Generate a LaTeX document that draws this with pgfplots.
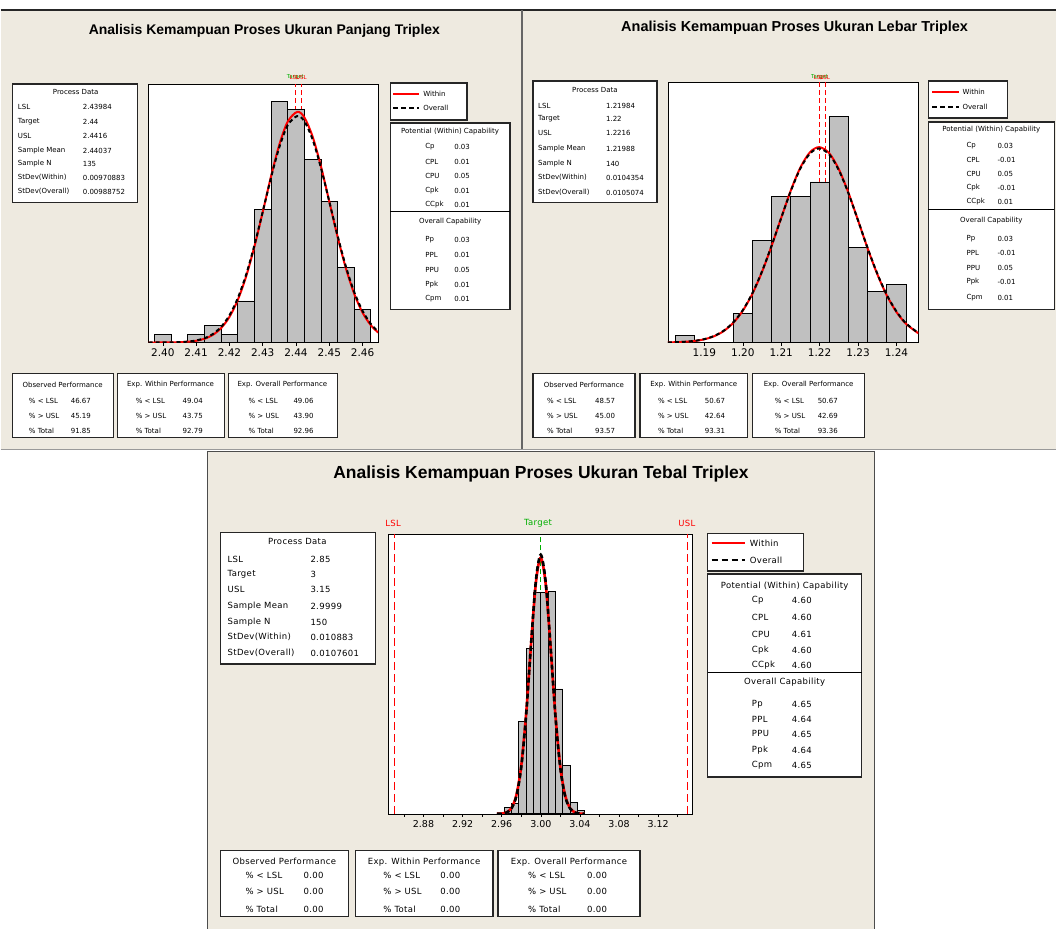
\documentclass[border=0pt]{standalone}
\usepackage{pgfplots}
\pgfplotsset{compat=1.18}
\usepackage{fontspec}
\setmainfont{DejaVu Sans}
\newfontfamily\wide[LetterSpace=4]{DejaVu Sans}
\newfontfamily\titlefont{Liberation Sans}
\definecolor{bgc}{RGB}{238,234,224}
\definecolor{barc}{RGB}{192,192,192}
\definecolor{mred}{RGB}{255,0,0}
\definecolor{mgreen}{RGB}{0,175,0}
\tikzset{box/.style={draw=black!85, line width=1.4pt, fill=white},
 ts/.style={font=\fontsize{7}{8}\selectfont, inner sep=0pt},
 tm/.style={font=\wide\fontsize{8.5}{9}\selectfont, inner sep=0pt}}
\newcommand{\tl}[3]{\node[ts,anchor=west] at (#1,#2) {#3};}
\newcommand{\tc}[3]{\node[ts,anchor=center] at (#1,#2) {#3};}
\newcommand{\ml}[3]{\node[tm,anchor=west] at (#1,#2) {#3};}
\newcommand{\mc}[3]{\node[tm,anchor=center] at (#1,#2) {#3};}
\pgfplotsset{cap/.style={scale only axis, axis background/.style={fill=white},
  ymin=0, ytick=\empty, xtick pos=bottom, tick align=outside, major tick length=3pt, minor tick length=3pt,
  axis line style={black, line width=0.6pt}, clip=true,
  /pgf/number format/fixed, /pgf/number format/fixed zerofill, /pgf/number format/precision=2,
  /pgf/number format/assume math mode=true,
  every tick/.style={black, line width=0.6pt}},
 bars/.style={ybar, bar shift=0pt, fill=barc, draw=black, line width=0.8pt},
 wit/.style={mred, line width=2pt, smooth},
 ovr/.style={black, line width=2pt, dash pattern=on 4pt off 3pt, smooth},
 spec/.style={mred, line width=1pt, dash pattern=on 5pt off 3pt},
 targ/.style={mgreen, line width=1pt, dash pattern=on 5pt off 3pt}}
\begin{document}
\begin{tikzpicture}[x=1pt,y=-1pt]
\fill[white] (0,0) rectangle (1057,930);
\fill[bgc] (0,10) rectangle (1057,450);
\fill[bgc] (207,452) rectangle (875,930);
\draw[black!85, line width=1.5pt] (0,10) -- (1057,10);
\draw[black!60, line width=1.5pt] (522,10) -- (522,450);
\draw[black!40, line width=1.5pt] (0,450) -- (1057,450);
\draw[black!70, line width=1.5pt] (207,930) -- (207,452) -- (875,452) -- (875,930);

% ---------------- Panel 1 ----------------
\node[font=\titlefont\bfseries\fontsize{14}{15}\selectfont, inner sep=0pt] at (264,31) {Analisis Kemampuan Proses Ukuran Panjang Triplex};
\begin{axis}[cap, at={(148pt,-343pt)}, anchor=south west, width=230pt, height=259pt,
  xmin=2.3957, xmax=2.4647, ymax=31.1, xtick={2.40,2.41,...,2.465},
  xticklabel style={font=\fontsize{10.5}{11}\selectfont}]
\addplot[targ] coordinates {(2.44,0) (2.44,31.1)};
\addplot[spec] coordinates {(2.43984,0) (2.43984,31.1)};
\addplot[spec] coordinates {(2.4416,0) (2.4416,31.1)};
\addplot[bars, bar width=0.005] coordinates {(2.400,1) (2.405,0) (2.410,1) (2.415,2) (2.420,1) (2.425,5) (2.430,16) (2.435,29) (2.440,28) (2.445,22) (2.450,17) (2.455,9) (2.460,4)};
\addplot[wit] coordinates {(2.3957,0.0007) (2.3975,0.0016) (2.4000,0.0049) (2.4025,0.0138) (2.4050,0.0364) (2.4075,0.090) (2.4100,0.208) (2.4125,0.450) (2.4150,0.913) (2.4175,1.731) (2.4200,3.070) (2.4225,5.098) (2.4250,7.921) (2.4275,11.52) (2.4300,15.68) (2.4325,19.97) (2.4350,23.80) (2.4375,26.55) (2.44037,27.736) (2.4425,27.08) (2.4450,24.75) (2.4475,21.18) (2.4500,16.96) (2.4525,12.71) (2.4550,8.91) (2.4575,5.85) (2.4600,3.59) (2.4625,2.064) (2.4647,1.201)};
\addplot[ovr] coordinates {(2.3957,0.001) (2.4025,0.0178) (2.4050,0.0453) (2.4075,0.108) (2.4100,0.243) (2.4125,0.513) (2.4150,1.013) (2.4175,1.877) (2.4200,3.263) (2.4225,5.319) (2.4250,8.135) (2.4275,11.68) (2.4300,15.71) (2.4325,19.84) (2.4350,23.50) (2.4375,26.11) (2.44037,27.235) (2.4425,26.61) (2.4450,24.41) (2.4475,21.00) (2.4500,16.95) (2.4525,12.83) (2.4550,9.12) (2.4575,6.07) (2.4600,3.80) (2.4625,2.225) (2.4647,1.319)};
\end{axis}
\node[font=\fontsize{5.5}{6}\selectfont, inner sep=0pt, text=mgreen, anchor=south] at (295,80) {Target};
\node[font=\fontsize{5.5}{6}\selectfont, inner sep=0pt, text=mred, anchor=south] at (294,80) {LSL};
\node[font=\fontsize{5.5}{6}\selectfont, inner sep=0pt, text=mred, anchor=south] at (301,80) {USL};
% process data
\draw[box] (12,84) rectangle (137,203);
\tc{75}{92}{Process Data}
\tl{17}{107}{LSL}\tl{82}{107}{2.43984}
\tl{17}{122}{Target}\tl{82}{122}{2.44}
\tl{17}{136}{USL}\tl{82}{136}{2.4416}
\tl{17}{151}{Sample Mean}\tl{82}{151}{2.44037}
\tl{17}{164}{Sample N}\tl{82}{164}{135}
\tl{17}{178}{StDev(Within)}\tl{82}{178}{0.00970883}
\tl{17}{192}{StDev(Overall)}\tl{82}{192}{0.00988752}
% legend
\draw[box] (390,83) rectangle (467,120);
\draw[mred, line width=1.8pt] (393,94) -- (419,94); \tl{423}{94}{Within}
\draw[black, line width=1.8pt, dash pattern=on 5pt off 3pt] (393,108) -- (419,108); \tl{423}{108}{Overall}
% capability
\draw[box] (390,123) rectangle (510,310);
\draw[black, line width=1pt] (390,212) -- (510,212);
\tc{450}{132}{Potential (Within) Capability}
\tl{425}{147}{Cp}\tl{454}{147}{0.03}
\tl{425}{162}{CPL}\tl{454}{162}{0.01}
\tl{425}{176}{CPU}\tl{454}{176}{0.05}
\tl{425}{191}{Cpk}\tl{454}{191}{0.01}
\tl{425}{205}{CCpk}\tl{454}{205}{0.01}
\tc{450}{222}{Overall Capability}
\tl{425}{240}{Pp}\tl{454}{240}{0.03}
\tl{425}{255}{PPL}\tl{454}{255}{0.01}
\tl{425}{270}{PPU}\tl{454}{270}{0.05}
\tl{425}{285}{Ppk}\tl{454}{285}{0.01}
\tl{425}{299}{Cpm}\tl{454}{299}{0.01}
% bottom boxes
\draw[box] (12,374) rectangle (113,438);
\draw[box] (117,374) rectangle (224,438);
\draw[box] (228,374) rectangle (337,438);
\tc{62}{385}{Observed Performance}
\tl{28}{402}{\% < LSL}\tl{70}{402}{46.67}
\tl{28}{417}{\% > USL}\tl{70}{417}{45.19}
\tl{28}{432}{\% Total}\tl{70}{432}{91.85}
\tc{170}{385}{Exp. Within Performance}
\tl{135}{402}{\% < LSL}\tl{182}{402}{49.04}
\tl{135}{417}{\% > USL}\tl{182}{417}{43.75}
\tl{135}{432}{\% Total}\tl{182}{432}{92.79}
\tc{282}{385}{Exp. Overall Performance}
\tl{248}{402}{\% < LSL}\tl{293}{402}{49.06}
\tl{248}{417}{\% > USL}\tl{293}{417}{43.90}
\tl{248}{432}{\% Total}\tl{293}{432}{92.96}

% ---------------- Panel 2 ----------------
\node[font=\titlefont\bfseries\fontsize{14.5}{15}\selectfont, inner sep=0pt] at (795,28) {Analisis Kemampuan Proses Ukuran Lebar Triplex};
\begin{axis}[cap, at={(668pt,-343pt)}, anchor=south west, width=251pt, height=261pt,
  xmin=1.18047, xmax=1.24572, ymax=35.7, xtick={1.19,1.20,...,1.245},
  xticklabel style={font=\fontsize{10.5}{11}\selectfont}]
\addplot[targ] coordinates {(1.22,0) (1.22,35.7)};
\addplot[spec] coordinates {(1.21984,0) (1.21984,35.7)};
\addplot[spec] coordinates {(1.2216,0) (1.2216,35.7)};
\addplot[bars, bar width=0.005] coordinates {(1.185,1) (1.190,0) (1.195,0) (1.200,4) (1.205,14) (1.210,20) (1.215,20) (1.220,22) (1.225,31) (1.230,13) (1.235,7) (1.240,8)};
\addplot[wit] coordinates {(1.18047,0.0217) (1.1825,0.0438) (1.1850,0.1003) (1.1875,0.217) (1.1900,0.444) (1.1925,0.857) (1.1950,1.560) (1.1975,2.684) (1.2000,4.359) (1.2025,6.685) (1.2050,9.682) (1.2075,13.24) (1.2100,17.09) (1.2125,20.84) (1.2150,23.99) (1.2175,26.07) (1.21988,26.761) (1.2225,25.93) (1.2250,23.73) (1.2275,20.50) (1.2300,16.72) (1.2325,12.88) (1.2350,9.37) (1.2375,6.43) (1.2400,4.17) (1.2425,2.554) (1.24572,1.253)};
\addplot[ovr] coordinates {(1.18047,0.0237) (1.1825,0.0475) (1.1850,0.1076) (1.1875,0.2305) (1.1900,0.4664) (1.1925,0.891) (1.1950,1.611) (1.1975,2.751) (1.2000,4.439) (1.2025,6.767) (1.2050,9.751) (1.2075,13.28) (1.2100,17.08) (1.2125,20.77) (1.2150,23.86) (1.2175,25.90) (1.21988,26.577) (1.2225,25.76) (1.2250,23.60) (1.2275,20.43) (1.2300,16.71) (1.2325,12.92) (1.2350,9.44) (1.2375,6.51) (1.2400,4.25) (1.2425,2.619) (1.24572,1.298)};
\end{axis}
\node[font=\fontsize{5.5}{6}\selectfont, inner sep=0pt, text=mgreen, anchor=south] at (820,80) {Target};
\node[font=\fontsize{5.5}{6}\selectfont, inner sep=0pt, text=mred, anchor=south] at (819,80) {LSL};
\node[font=\fontsize{5.5}{6}\selectfont, inner sep=0pt, text=mred, anchor=south] at (825,80) {USL};
\draw[box] (533,81) rectangle (657,203);
\tc{595}{90}{Process Data}
\tl{538}{106}{LSL}\tl{606}{106}{1.21984}
\tl{538}{119}{Target}\tl{606}{119}{1.22}
\tl{538}{133}{USL}\tl{606}{133}{1.2216}
\tl{538}{149}{Sample Mean}\tl{606}{149}{1.21988}
\tl{538}{164}{Sample N}\tl{606}{164}{140}
\tl{538}{178}{StDev(Within)}\tl{606}{178}{0.0104354}
\tl{538}{193}{StDev(Overall)}\tl{606}{193}{0.0105074}
\draw[box] (929,81) rectangle (1008,118);
\draw[mred, line width=1.8pt] (933,92) -- (960,92); \tl{963}{92}{Within}
\draw[black, line width=1.8pt, dash pattern=on 5pt off 3pt] (933,107) -- (960,107); \tl{963}{107}{Overall}
\draw[box] (929,122) rectangle (1055,310);
\draw[black, line width=1pt] (929,210) -- (1055,210);
\tc{992}{130}{Potential (Within) Capability}
\tl{967}{146}{Cp}\tl{998}{146}{0.03}
\tl{967}{160}{CPL}\tl{998}{160}{-0.01}
\tl{967}{174}{CPU}\tl{998}{174}{0.05}
\tl{967}{188}{Cpk}\tl{998}{188}{-0.01}
\tl{967}{202}{CCpk}\tl{998}{202}{0.01}
\tc{992}{221}{Overall Capability}
\tl{967}{239}{Pp}\tl{998}{239}{0.03}
\tl{967}{253}{PPL}\tl{998}{253}{-0.01}
\tl{967}{268}{PPU}\tl{998}{268}{0.05}
\tl{967}{282}{Ppk}\tl{998}{282}{-0.01}
\tl{967}{298}{Cpm}\tl{998}{298}{0.01}
\draw[box] (533,374) rectangle (635,438);
\draw[box] (640,374) rectangle (748,438);
\draw[box] (753,374) rectangle (865,438);
\tc{584}{385}{Observed Performance}
\tl{547}{402}{\% < LSL}\tl{595}{402}{48.57}
\tl{547}{417}{\% > USL}\tl{595}{417}{45.00}
\tl{547}{432}{\% Total}\tl{595}{432}{93.57}
\tc{694}{385}{Exp. Within Performance}
\tl{658}{402}{\% < LSL}\tl{705}{402}{50.67}
\tl{658}{417}{\% > USL}\tl{705}{417}{42.64}
\tl{658}{432}{\% Total}\tl{705}{432}{93.31}
\tc{809}{385}{Exp. Overall Performance}
\tl{775}{402}{\% < LSL}\tl{818}{402}{50.67}
\tl{775}{417}{\% > USL}\tl{818}{417}{42.69}
\tl{775}{432}{\% Total}\tl{818}{432}{93.36}

% ---------------- Panel 3 ----------------
\node[font=\titlefont\bfseries\fontsize{17.5}{18}\selectfont, inner sep=0pt] at (541,475) {Analisis Kemampuan Proses Ukuran Tebal Triplex};
\begin{axis}[cap, at={(388pt,-815pt)}, anchor=south west, width=305pt, height=280pt,
  xmin=2.8439, xmax=3.1554, ymax=30, xtick={2.88,2.92,...,3.13},
  minor xtick={2.86,2.90,...,3.15},
  xticklabel style={font=\fontsize{9.5}{10}\selectfont}]
\addplot[targ] coordinates {(3,0) (3,30)};
\addplot[spec, line width=1.3pt, dash pattern=on 8pt off 4pt] coordinates {(2.85,0) (2.85,30)};
\addplot[spec, line width=1.3pt, dash pattern=on 8pt off 4pt] coordinates {(3.15,0) (3.15,30)};
\addplot[bars, bar width=0.0075] coordinates {(2.96625,0.7) (2.97375,1.1) (2.98125,9.9) (2.98875,17.7) (2.99625,23.8) (3.00375,23.8) (3.01125,23.9) (3.01875,13.4) (3.02625,5.2) (3.03375,1.25) (3.04125,0.4)};
\addplot[wit, line width=2.6pt] coordinates {(2.955,0.0055) (2.960,0.0331) (2.965,0.161) (2.970,0.631) (2.975,2.006) (2.980,5.165) (2.985,10.77) (2.990,18.17) (2.995,24.84) (2.9999,27.49) (3.005,24.63) (3.010,17.87) (3.015,10.50) (3.020,4.995) (3.025,1.923) (3.030,0.600) (3.035,0.151) (3.040,0.031) (3.045,0.005)};
\addplot[ovr, line width=2.6pt, dash pattern=on 5pt off 3pt] coordinates {(2.955,0.0046) (2.960,0.0287) (2.965,0.144) (2.970,0.586) (2.975,1.911) (2.980,5.029) (2.985,10.66) (2.990,18.21) (2.995,25.07) (2.9999,27.81) (3.005,24.86) (3.010,17.90) (3.015,10.39) (3.020,4.857) (3.025,1.831) (3.030,0.556) (3.035,0.136) (3.040,0.027) (3.045,0.004)};
\end{axis}
\node[tm, text=mred] at (393,524) {LSL};
\node[tm, text=mgreen] at (538,524) {Target};
\node[tm, text=mred] at (687,524) {USL};
\draw[box] (220,533) rectangle (375,665);
\mc{297}{542}{Process Data}
\ml{227}{560}{LSL}\ml{310}{560}{2.85}
\ml{227}{575}{Target}\ml{310}{575}{3}
\ml{227}{590}{USL}\ml{310}{590}{3.15}
\ml{227}{607}{Sample Mean}\ml{310}{607}{2.9999}
\ml{227}{623}{Sample N}\ml{310}{623}{150}
\ml{227}{638}{StDev(Within)}\ml{310}{638}{0.010883}
\ml{227}{654}{StDev(Overall)}\ml{310}{654}{0.0107601}
\draw[box] (708,534) rectangle (804,572);
\draw[mred, line width=2pt] (712,544) -- (745,544); \ml{750}{544}{Within}
\draw[black, line width=2.2pt, dash pattern=on 6pt off 4pt] (712,561) -- (745,561); \ml{750}{561}{Overall}
\draw[box] (708,575) rectangle (862,778);
\draw[black, line width=1pt] (708,673) -- (862,673);
\mc{785}{587}{Potential (Within) Capability}
\ml{752}{601}{Cp}\ml{792}{601}{4.60}
\ml{752}{618}{CPL}\ml{792}{618}{4.60}
\ml{752}{635}{CPU}\ml{792}{635}{4.61}
\ml{752}{651}{Cpk}\ml{792}{651}{4.60}
\ml{752}{666}{CCpk}\ml{792}{666}{4.60}
\mc{785}{683}{Overall Capability}
\ml{752}{705}{Pp}\ml{792}{705}{4.65}
\ml{752}{720}{PPL}\ml{792}{720}{4.64}
\ml{752}{735}{PPU}\ml{792}{735}{4.65}
\ml{752}{751}{Ppk}\ml{792}{751}{4.64}
\ml{752}{766}{Cpm}\ml{792}{766}{4.65}
\draw[box] (220,852) rectangle (348,918);
\draw[box] (355,852) rectangle (493,918);
\draw[box] (498,852) rectangle (640,918);
\mc{284}{863}{Observed Performance}
\ml{245}{877}{\% < LSL}\ml{303}{877}{0.00}
\ml{245}{893}{\% > USL}\ml{303}{893}{0.00}
\ml{245}{911}{\% Total}\ml{303}{911}{0.00}
\mc{424}{863}{Exp. Within Performance}
\ml{383}{877}{\% < LSL}\ml{440}{877}{0.00}
\ml{383}{893}{\% > USL}\ml{440}{893}{0.00}
\ml{383}{911}{\% Total}\ml{440}{911}{0.00}
\mc{569}{863}{Exp. Overall Performance}
\ml{528}{877}{\% < LSL}\ml{587}{877}{0.00}
\ml{528}{893}{\% > USL}\ml{587}{893}{0.00}
\ml{528}{911}{\% Total}\ml{587}{911}{0.00}
\end{tikzpicture}
\end{document}
